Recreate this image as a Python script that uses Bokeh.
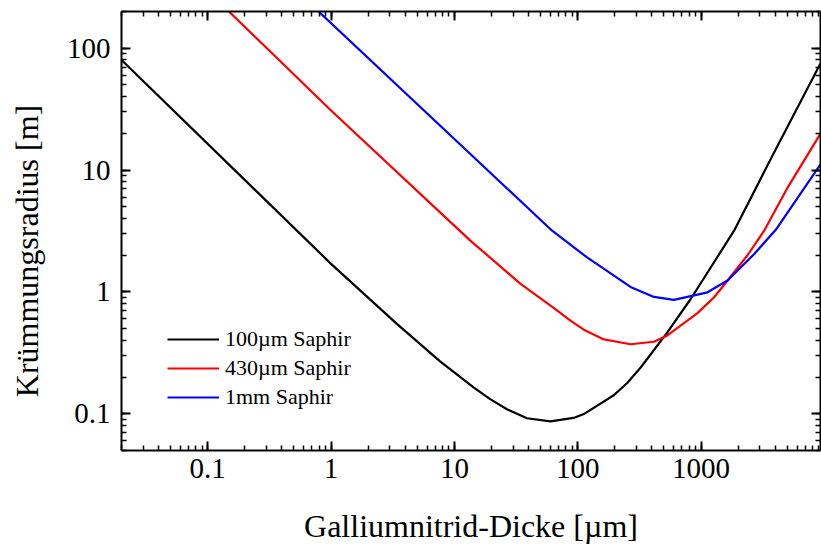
from bokeh.plotting import figure
from bokeh.models import LogAxis, LogTicker, Legend, LegendItem
from bokeh.embed import file_html
from bokeh.resources import INLINE

# ---- data ----
x_100um = [0.02, 1, 3.4, 7.66, 14.3, 19.5, 26.7, 38.8, 60, 92.7, 112, 196, 252, 324, 533, 824, 1853, 3920, 9270]
y_100um = [80, 1.70, 0.55, 0.269, 0.165, 0.132, 0.109, 0.092, 0.0867, 0.0925, 0.0995, 0.142, 0.179, 0.240, 0.466, 0.875, 3.18, 14.0, 74.5]

x_430um = [0.1, 1, 13.4, 34.2, 63.8, 87.3, 112, 163, 268, 415, 533, 935, 1276, 1641, 2380, 3250, 4960, 9270]
y_430um = [295, 30.8, 2.65, 1.17, 0.74, 0.581, 0.49, 0.408, 0.372, 0.390, 0.440, 0.670, 0.904, 1.24, 2.0, 3.18, 7.0, 19.8]

x_1mm = [0.5, 13.4, 62, 119, 185, 268, 415, 603, 1128, 1641, 2700, 4050, 5620, 9270]
y_1mm = [310, 13.6, 3.18, 1.92, 1.42, 1.10, 0.910, 0.860, 0.993, 1.24, 2.05, 3.25, 5.27, 11.1]

series_labels = ["100\u00b5m Saphir", "430\u00b5m Saphir", "1mm Saphir"]
series_colors = ["#000000", "#ff0000", "#0000ff"]

x_tick_values = [0.1, 1, 10, 100, 1000]
x_tick_labels = ["0.1", "1", "10", "100", "1000"]
y_tick_values = [0.1, 1, 10, 100]
y_tick_labels = ["0.1", "1", "10", "100"]

x_title = "Galliumnitrid-Dicke [\u00b5m]"
y_title = "Kr\u00fcmmungsradius [m]"

FONT = "Liberation Serif"

p = figure(width=821, height=549, x_axis_type="log", y_axis_type="log",
           x_range=(0.02, 9300), y_range=(0.05, 200),
           output_backend="svg", toolbar_location=None,
           min_border_left=121, min_border_right=1, min_border_top=11, min_border_bottom=99)
p.outline_line_color = None
p.grid.visible = False
p.background_fill_color = "white"
p.border_fill_color = "white"

renderers = []
for xs, ys, c in zip([x_100um, x_430um, x_1mm], [y_100um, y_430um, y_1mm], series_colors):
    r = p.line(xs, ys, line_color=c, line_width=2.2, line_join="round")
    renderers.append(r)

def style_axis(ax, show_labels=True):
    ax.ticker = LogTicker(num_minor_ticks=10)
    ax.axis_line_width = 2
    ax.axis_line_color = "black"
    ax.major_tick_in = 9
    ax.major_tick_out = 0
    ax.minor_tick_in = 5
    ax.minor_tick_out = 0
    ax.major_tick_line_width = 2
    ax.minor_tick_line_width = 1.5
    ax.major_tick_line_color = "black"
    ax.minor_tick_line_color = "black"
    if show_labels:
        ax.major_label_text_font = FONT
        ax.major_label_text_font_size = "29px"
        ax.major_label_text_color = "black"
        ax.axis_label_text_font = FONT
        ax.axis_label_text_font_size = "32px"
        ax.axis_label_text_font_style = "normal"
        ax.axis_label_text_color = "black"
    else:
        ax.major_label_text_font_size = "1px"
        ax.major_label_text_alpha = 0
        ax.major_label_standoff = 0

xa = p.xaxis[0]
style_axis(xa)
xa.axis_label = x_title
xa.major_label_overrides = {v: l for v, l in zip(x_tick_values, x_tick_labels)}
xa.major_label_standoff = 8
xa.axis_label_standoff = 27

ya = p.yaxis[0]
style_axis(ya)
# trailing no-break spaces shift the rotated title slightly down, as in the reference
ya.axis_label = y_title + "\u00a0" * 5
ya.major_label_overrides = {v: l for v, l in zip(y_tick_values, y_tick_labels)}
ya.major_label_standoff = 11
ya.axis_label_standoff = 19

top = LogAxis()
style_axis(top, show_labels=False)
p.add_layout(top, "above")
right = LogAxis()
style_axis(right, show_labels=False)
p.add_layout(right, "right")

items = [LegendItem(label=lab, renderers=[r]) for lab, r in zip(series_labels, renderers)]
legend = Legend(items=items, location=(46, 40), padding=0, margin=0,
                border_line_color=None, background_fill_alpha=0,
                glyph_width=52, glyph_height=24, label_height=24, spacing=3,
                label_standoff=6, label_text_font=FONT, label_text_font_size="22px",
                label_text_color="black")
p.add_layout(legend, "center")

open("out.html", "w").write(file_html(p, INLINE))
